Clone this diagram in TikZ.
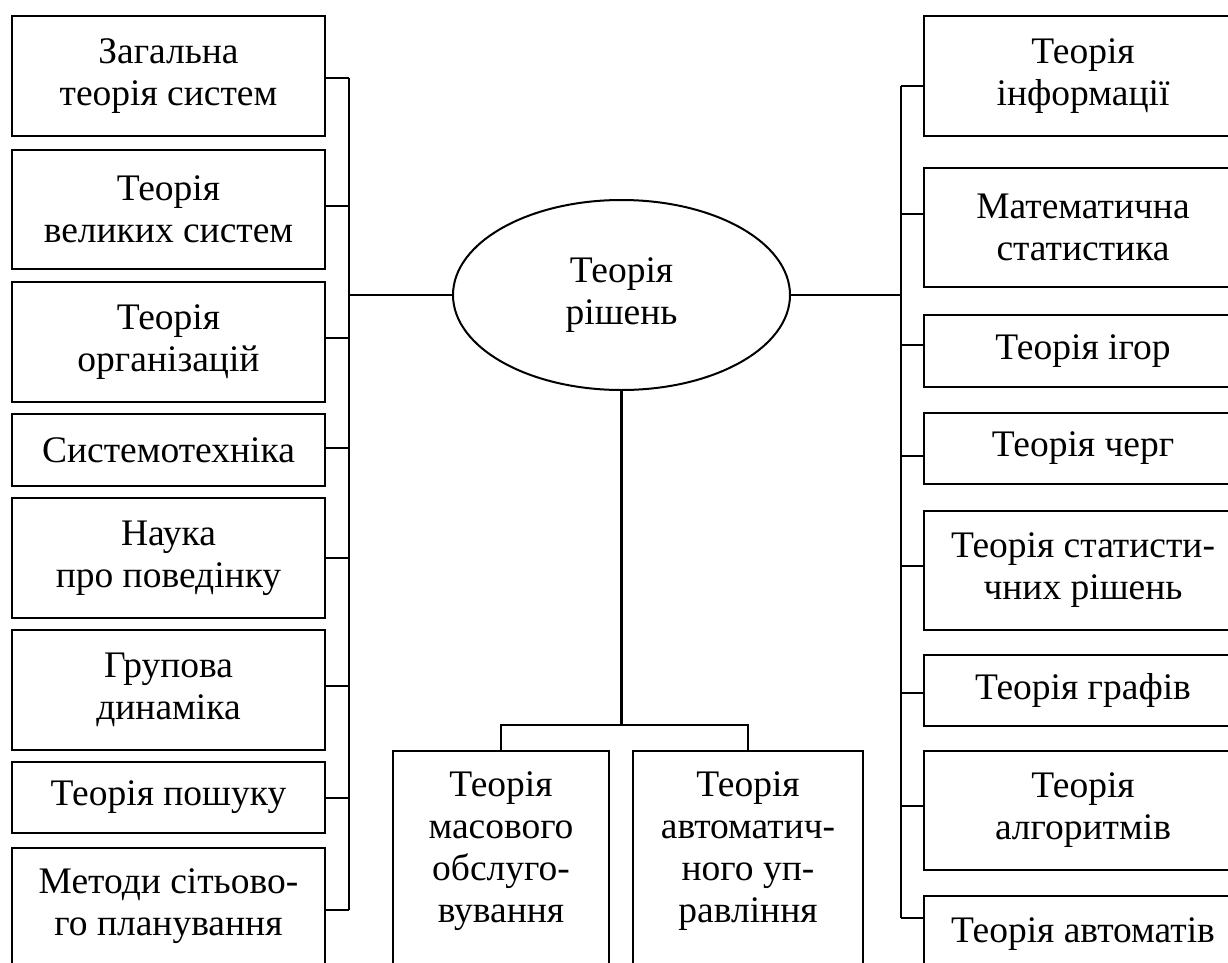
\documentclass[tikz,border=0pt]{standalone}
\usepackage{fontspec}
\setmainfont{Liberation Serif}
\usetikzlibrary{shapes.geometric}
\tikzset{
  ln/.style={line width=2.1pt},
  box/.style={draw, line width=2.1pt, inner sep=0pt, align=center,
    font=\fontsize{37.5}{42}\selectfont},
  lbox/.style={box, minimum width=313pt},
  rbox/.style={box, minimum width=318pt},
  lbl/.style={inner sep=0pt, align=center, font=\fontsize{37.5}{42}\selectfont},
  oval/.style={draw, ellipse, line width=2pt, inner sep=0pt,
    minimum width=337pt, minimum height=190pt, align=center,
    font=\fontsize{37.5}{42}\selectfont}
}
\begin{document}
\begin{tikzpicture}[x=1pt,y=-1pt]
\useasboundingbox (0,0) rectangle (1228,963);
\fill[white] (0,0) rectangle (1228,963);
\begin{scope}
\clip (0,0) rectangle (1228,963);
% centre
\node[oval] (c) at (621.5,295) {Теорія\\рішень};
% left column
\node[lbox, minimum height=120pt] (l1) at (168.5,76) {Загальна\\теорія систем};
\node[lbox, minimum height=119pt] (l2) at (168.5,209.5) {Теорія\\великих систем};
\node[lbox, minimum height=120pt] (l3) at (168.5,342) {Теорія\\організацій};
\node[lbox, minimum height=72pt] (l4) at (168.5,450) {Системотехніка};
\node[lbox, minimum height=120pt] (l5) at (168.5,558) {Наука\\про поведінку};
\node[lbox, minimum height=120pt] (l6) at (168.5,690) {Групова\\динаміка};
\node[lbox, minimum height=71pt] (l7) at (168.5,797.5) {Теорія пошуку};
\node[lbox, minimum height=200pt, anchor=north] (l8) at (168.5,847) {};
\node[lbl, anchor=north] (l8t) at (168.5,868) {Методи сітьово-\\го планування};
% right column
\node[rbox, minimum height=120pt] (r1) at (1083,76) {Теорія\\інформації};
\node[rbox, minimum height=119pt] (r2) at (1083,227.5) {Математична\\статистика};
\node[rbox, minimum height=72pt] (r3) at (1083,351) {Теорія ігор};
\node[rbox, minimum height=71pt] (r4) at (1083,448.5) {Теорія черг};
\node[rbox, minimum height=119pt] (r5) at (1083,570.5) {Теорія статисти-\\чних рішень};
\node[rbox, minimum height=71pt] (r6) at (1083,690.5) {Теорія графів};
\node[rbox, minimum height=119pt] (r7) at (1083,810.5) {Теорія\\алгоритмів};
\node[rbox, minimum height=200pt, anchor=north] (r8) at (1083,895) {};
\node[lbl, anchor=north] (r8t) at (1083,917) {Теорія автоматів};
% bottom boxes
\node[box, minimum width=216pt, minimum height=300pt, anchor=north] (bA) at (501,750) {};
\node[lbl, anchor=north] (bAt) at (501,771) {Теорія\\масового\\обслуго-\\вування};
\node[box, minimum width=230pt, minimum height=300pt, anchor=north] (bB) at (748,750) {};
\node[lbl, anchor=north] (bBt) at (748,771) {Теорія\\автоматич-\\ного уп-\\равління};
% left bus
\coordinate (lbt) at (349,78);
\coordinate (lbb) at (349,910);
\draw[ln] (lbt) -- (lbb);
\draw[ln] (l1.east |- lbt) -- (lbt);
\draw[ln] (l2.east |- 0,206) -- (lbt |- 0,206);
\draw[ln] (l3.east |- 0,338) -- (lbt |- 0,338);
\draw[ln] (l4.east |- 0,448) -- (lbt |- 0,448);
\draw[ln] (l5.east |- 0,558) -- (lbt |- 0,558);
\draw[ln] (l6.east |- 0,686) -- (lbt |- 0,686);
\draw[ln] (l7.east |- 0,798) -- (lbt |- 0,798);
\draw[ln] (l8.east |- lbb) -- (lbb);
\draw[ln] (c.west) -- (c.west -| lbt);
% right bus
\coordinate (rbt) at (901,86);
\coordinate (rbb) at (901,918);
\draw[ln] (rbt) -- (rbb);
\draw[ln] (r1.west |- rbt) -- (rbt);
\draw[ln] (r2.west |- 0,214) -- (rbt |- 0,214);
\draw[ln] (r3.west |- 0,345) -- (rbt |- 0,345);
\draw[ln] (r4.west |- 0,456) -- (rbt |- 0,456);
\draw[ln] (r5.west |- 0,566) -- (rbt |- 0,566);
\draw[ln] (r6.west |- 0,693) -- (rbt |- 0,693);
\draw[ln] (r7.west |- 0,806) -- (rbt |- 0,806);
\draw[ln] (r8.west |- rbb) -- (rbb);
\draw[ln] (c.east) -- (c.east -| rbt);
% bottom split
\coordinate (jn) at (621.5,725);
\draw[ln] (c.south) -- (jn);
\draw[ln] (bA.north) -- (bA.north |- jn) -- (bB.north |- jn) -- (bB.north);
\end{scope}
\end{tikzpicture}
\end{document}
